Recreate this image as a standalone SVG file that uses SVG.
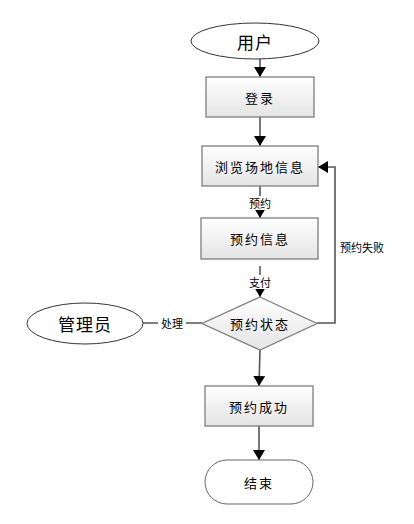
<svg xmlns="http://www.w3.org/2000/svg" width="414" height="524" viewBox="0 0 414 524">
<defs>
<linearGradient id="g" x1="0" y1="0" x2="0" y2="1"><stop offset="0" stop-color="#ffffff"/><stop offset="1" stop-color="#e4e4e4"/></linearGradient>
<marker id="ah" markerWidth="10" markerHeight="12" refX="10" refY="6" orient="auto" markerUnits="userSpaceOnUse"><path d="M0,0 L10,6 L0,12 Z" fill="#000"/></marker>
</defs>
<style>
.box{fill:url(#g);stroke:#7f7f7f;stroke-width:1.3}
.ell{fill:#fff;stroke:#333;stroke-width:1}
.t{font-family:"Noto Sans CJK SC","Liberation Sans",sans-serif;font-size:13px;letter-spacing:2px;fill:#000;text-anchor:middle;dominant-baseline:central}
.big{font-size:17px;letter-spacing:1px}
.lbl{font-family:"Noto Sans CJK SC","Liberation Sans",sans-serif;font-size:11px;fill:#000;text-anchor:middle;dominant-baseline:central}
.c{fill:none;stroke:#555;stroke-width:1.6}
.lb{fill:#fff}
</style>
<g id="connectors">
<path class="c" d="M260,59 L260,77" marker-end="url(#ah)"/>
<path class="c" d="M260,117 L260,146" marker-end="url(#ah)"/>
<path class="c" d="M260,186 L260,218" marker-end="url(#ah)"/>
<path class="c" d="M260,266 L260,297" marker-end="url(#ah)"/>
<path class="c" d="M317,323 L335,323 L335,167 L318,167" marker-end="url(#ah)"/>
<path class="c" d="M143,323 L202,323"/>
<path class="c" d="M260,350 L259,386" marker-end="url(#ah)"/>
<path class="c" d="M259,426 L259,460" marker-end="url(#ah)"/>
<rect class="lb" x="246" y="196" width="28" height="14"/>
<text class="lbl" x="260" y="203">预约</text>
<rect class="lb" x="246" y="275" width="28" height="14"/>
<text class="lbl" x="260" y="282">支付</text>
<rect class="lb" x="158" y="316" width="28" height="14"/>
<text class="lbl" x="172" y="323">处理</text>
<text class="lbl" x="362" y="247">预约失败</text>
</g>
<g id="user"><ellipse class="ell" cx="255" cy="41" rx="64" ry="18"/><text class="t big" x="255" y="41">用户</text></g>
<g id="login"><rect class="box" x="206" y="77" width="108" height="40"/><text class="t" x="260" y="97">登录</text></g>
<g id="browse"><rect class="box" x="202" y="146" width="116" height="40"/><text class="t" x="260" y="166">浏览场地信息</text></g>
<g id="info"><rect class="box" x="201" y="218" width="117" height="41"/><text class="t" x="260" y="238.5">预约信息</text></g>
<g id="status"><path class="box" d="M260,297 L317,323.5 L260,350 L202,323.5 Z"/><text class="t" x="260" y="323.5">预约状态</text></g>
<g id="admin"><ellipse class="ell" cx="85" cy="323.5" rx="58" ry="20.5"/><text class="t big" x="85" y="323.5">管理员</text></g>
<g id="success"><rect class="box" x="205" y="386" width="108" height="40"/><text class="t" x="259" y="406">预约成功</text></g>
<g id="end"><rect class="ell" x="205" y="460" width="108" height="44" rx="22" ry="22" style="stroke:#666"/><text class="t" x="259" y="482">结束</text></g>
</svg>
